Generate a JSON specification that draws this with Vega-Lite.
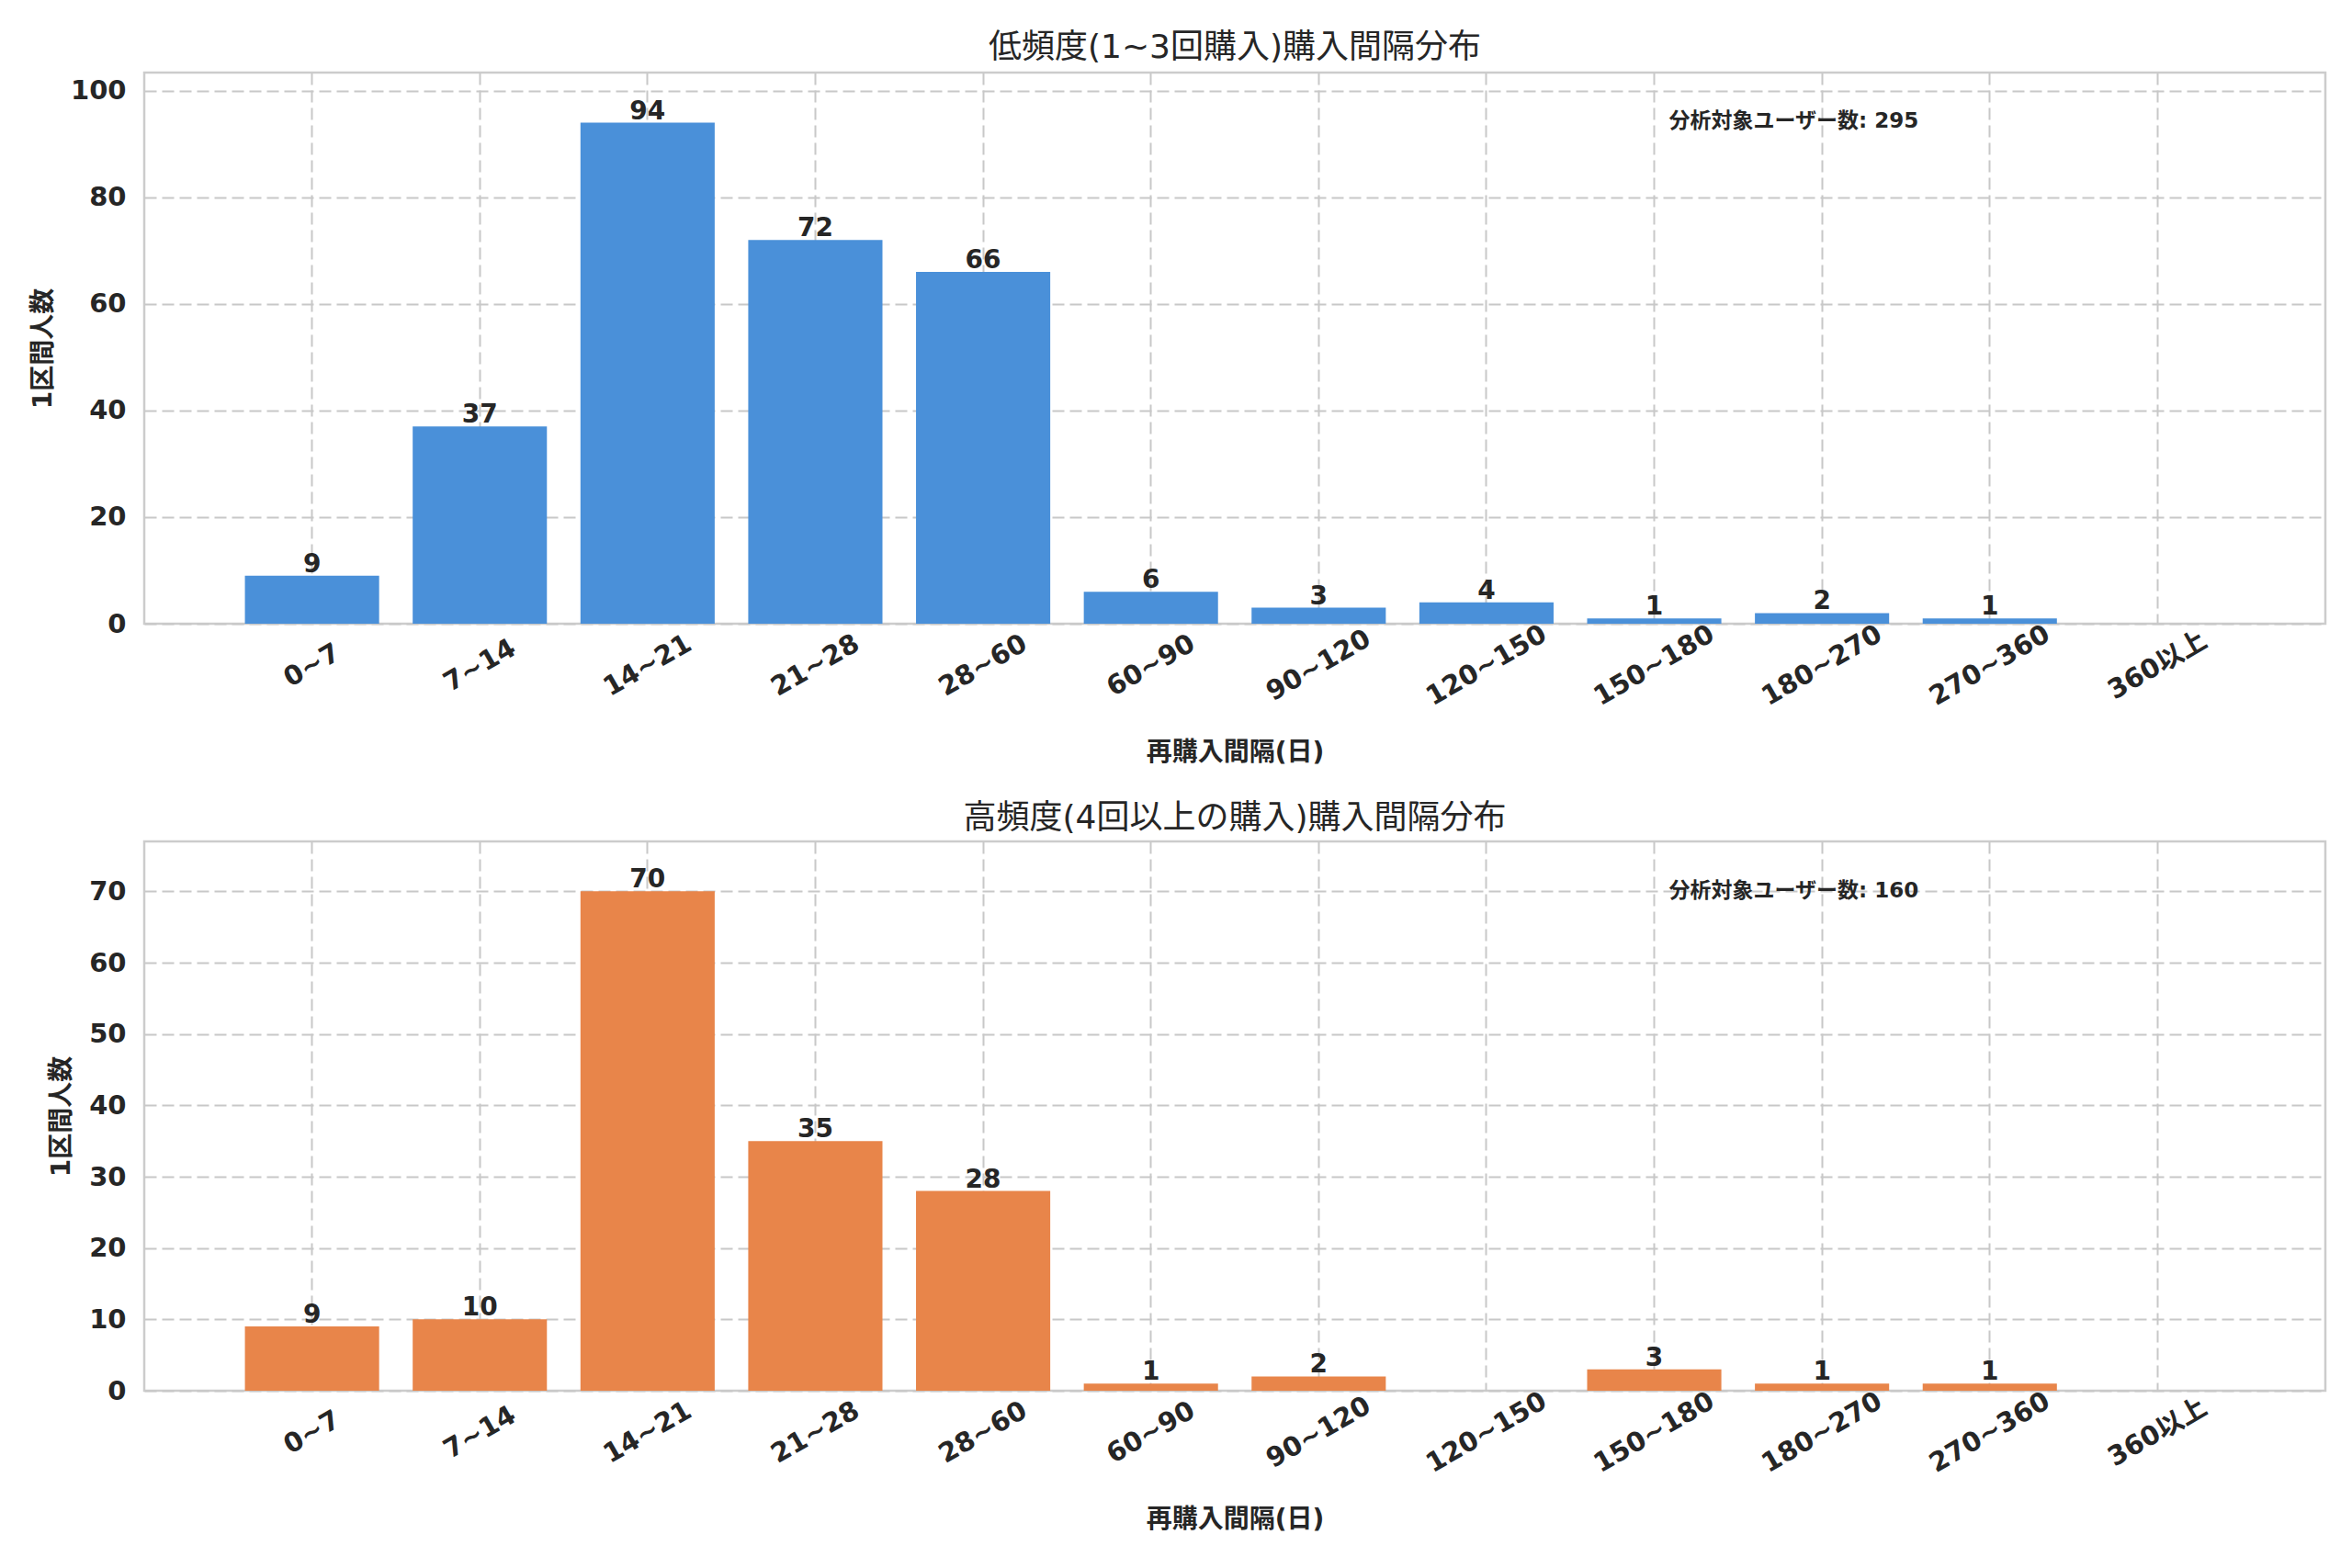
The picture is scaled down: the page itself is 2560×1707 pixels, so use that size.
{
  "$schema": "https://vega.github.io/schema/vega-lite/v6.json",
  "background": "white",
  "padding": {"left": 32, "top": 32, "right": 25, "bottom": 20},
  "datasets": {
    "low": [
      {"bin": "0~7", "count": 9},
      {"bin": "7~14", "count": 37},
      {"bin": "14~21", "count": 94},
      {"bin": "21~28", "count": 72},
      {"bin": "28~60", "count": 66},
      {"bin": "60~90", "count": 6},
      {"bin": "90~120", "count": 3},
      {"bin": "120~150", "count": 4},
      {"bin": "150~180", "count": 1},
      {"bin": "180~270", "count": 2},
      {"bin": "270~360", "count": 1},
      {"bin": "360以上", "count": 0}
    ],
    "high": [
      {"bin": "0~7", "count": 9},
      {"bin": "7~14", "count": 10},
      {"bin": "14~21", "count": 70},
      {"bin": "21~28", "count": 35},
      {"bin": "28~60", "count": 28},
      {"bin": "60~90", "count": 1},
      {"bin": "90~120", "count": 2},
      {"bin": "120~150", "count": 0},
      {"bin": "150~180", "count": 3},
      {"bin": "180~270", "count": 1},
      {"bin": "270~360", "count": 1},
      {"bin": "360以上", "count": 0}
    ],
    "notes": [
      {"panel": "low", "label": "分析対象ユーザー数: 295"},
      {"panel": "high", "label": "分析対象ユーザー数: 160"}
    ]
  },
  "spacing": 36,
  "vconcat": [
    {
      "title": {"text": "低頻度(1~3回購入)購入間隔分布", "offset": 8},
      "width": 2374,
      "height": 600,
      "encoding": {
        "x": {
          "field": "bin",
          "type": "nominal",
          "sort": null,
          "title": "再購入間隔(日)",
          "scale": {"paddingInner": 0.2, "paddingOuter": 0.6}
        }
      },
      "layer": [
        {
          "data": {"name": "low"},
          "mark": {"type": "bar", "color": "#4a90d9"},
          "encoding": {
            "y": {
              "field": "count",
              "type": "quantitative",
              "title": "1区間人数",
              "scale": {"domain": [0, 103.4], "nice": false},
              "axis": {"values": [0, 20, 40, 60, 80, 100]}
            }
          }
        },
        {
          "data": {"name": "low"},
          "transform": [{"filter": "datum.count > 0"}],
          "mark": {"type": "text", "baseline": "bottom", "fontWeight": "bold", "fontSize": 28, "color": "#262626", "dy": 2},
          "encoding": {
            "y": {"field": "count", "type": "quantitative"},
            "text": {"field": "count", "type": "quantitative"}
          }
        },
        {
          "data": {"name": "notes"},
          "transform": [{"filter": "datum.panel == 'low'"}],
          "mark": {"type": "text", "align": "left", "baseline": "top", "fontWeight": "bold", "fontSize": 23, "color": "#262626", "dx": 16},
          "encoding": {
            "x": {"datum": "150~180", "type": "nominal", "bandPosition": 0.5},
            "y": {"datum": 96.1, "type": "quantitative"},
            "text": {"field": "label"}
          }
        }
      ]
    },
    {
      "title": {"text": "高頻度(4回以上の購入)購入間隔分布", "offset": 6},
      "width": 2374,
      "height": 598,
      "encoding": {
        "x": {
          "field": "bin",
          "type": "nominal",
          "sort": null,
          "title": "再購入間隔(日)",
          "scale": {"paddingInner": 0.2, "paddingOuter": 0.6}
        }
      },
      "layer": [
        {
          "data": {"name": "high"},
          "mark": {"type": "bar", "color": "#e8854a"},
          "encoding": {
            "y": {
              "field": "count",
              "type": "quantitative",
              "title": "1区間人数",
              "scale": {"domain": [0, 77], "nice": false},
              "axis": {"values": [0, 10, 20, 30, 40, 50, 60, 70]}
            }
          }
        },
        {
          "data": {"name": "high"},
          "transform": [{"filter": "datum.count > 0"}],
          "mark": {"type": "text", "baseline": "bottom", "fontWeight": "bold", "fontSize": 28, "color": "#262626", "dy": 2},
          "encoding": {
            "y": {"field": "count", "type": "quantitative"},
            "text": {"field": "count", "type": "quantitative"}
          }
        },
        {
          "data": {"name": "notes"},
          "transform": [{"filter": "datum.panel == 'high'"}],
          "mark": {"type": "text", "align": "left", "baseline": "top", "fontWeight": "bold", "fontSize": 23, "color": "#262626", "dx": 16},
          "encoding": {
            "x": {"datum": "150~180", "type": "nominal", "bandPosition": 0.5},
            "y": {"datum": 71.5, "type": "quantitative"},
            "text": {"field": "label"}
          }
        }
      ]
    }
  ],
  "config": {
    "font": "DejaVu Sans, Noto Sans CJK JP",
    "view": {"stroke": "#cccccc", "strokeWidth": 2.5},
    "title": {"fontSize": 36, "fontWeight": "normal", "color": "#262626"},
    "axis": {
      "domain": false,
      "ticks": false,
      "grid": true,
      "gridColor": "#c8c8c8",
      "gridWidth": 2,
      "gridDash": [13, 6],
      "labelFontSize": 29,
      "labelFontWeight": "bold",
      "labelColor": "#262626",
      "titleFontSize": 28,
      "titleFontWeight": "bold",
      "titleColor": "#262626"
    },
    "axisX": {
      "bandPosition": 0.5,
      "labelAngle": -30,
      "labelAlign": "center",
      "labelBaseline": "middle",
      "labelPadding": 45,
      "titlePadding": 32
    },
    "axisY": {"labelPadding": 20, "titlePadding": 15}
  }
}
